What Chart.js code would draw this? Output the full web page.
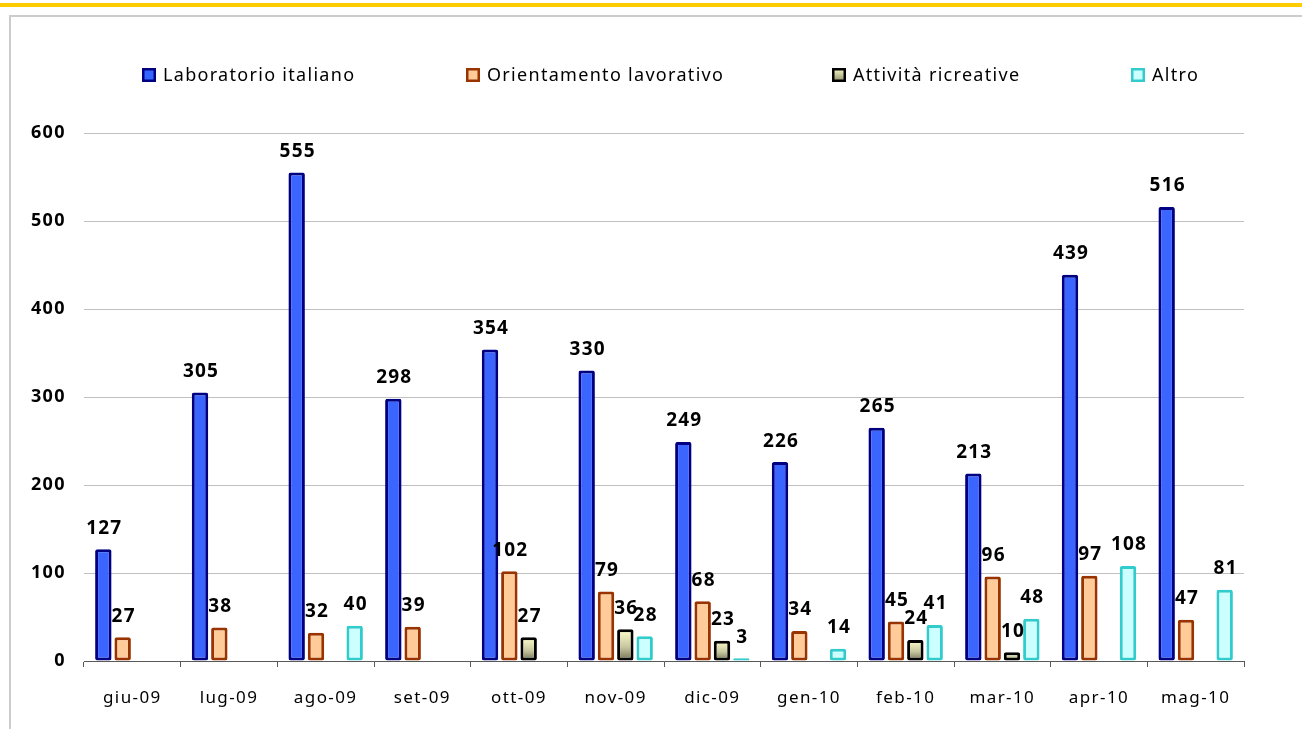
<!DOCTYPE html>
<html lang="it">
<head>
<meta charset="utf-8">
<title>Partecipanti per attività</title>
<script src="https://cdn.jsdelivr.net/npm/chart.js@4"></script>
<style>
  html, body { margin: 0; padding: 0; background: #ffffff; overflow: hidden; }
  #topline { position: absolute; left: 0; top: 3px; width: 1302px; height: 4px; background: #FFCC00; }
  #frame { position: absolute; left: 9px; top: 15px; width: 1310px; height: 730px;
           border-top: 2px solid #CCCCCC; border-left: 2px solid #CCCCCC; }
  #chart { position: absolute; left: 0; top: 0; }
</style>
</head>
<body>
<div id="topline"></div>
<div id="frame"></div>
<canvas id="chart" width="1302" height="729"></canvas>
<script>
// Months (June 2009 – May 2010)
const months = ['giu-09', 'lug-09', 'ago-09', 'set-09', 'ott-09', 'nov-09',
                'dic-09', 'gen-10', 'feb-10', 'mar-10', 'apr-10', 'mag-10'];

// Participants per activity
const laboratorioItaliano    = [127, 305, 555, 298, 354, 330, 249, 226, 265, 213, 439, 516];
const orientamentoLavorativo = [27, 38, 32, 39, 102, 79, 68, 34, 45, 96, 97, 47];
const attivitaRicreative     = [null, null, null, null, 27, 36, 23, null, 24, 10, null, null];
const altro                  = [null, null, 40, null, null, 28, 3, 14, 41, 48, 108, 81];

const seriesNames = ['Laboratorio italiano', 'Orientamento lavorativo', 'Attività ricreative', 'Altro'];
const yTicks = [0, 100, 200, 300, 400, 500, 600];

const FONT = '"Noto Sans", "DejaVu Sans", sans-serif';

// Vertical pale-yellow to olive fill used by the "Attività ricreative" bars
function oliveGradient(c) {
  const chart = c.chart;
  const y = chart.scales && chart.scales.y;
  if (!chart.chartArea || !y || c.raw == null) return '#D8D8B0';
  const top = y.getPixelForValue(c.raw);
  const base = y.getPixelForValue(0);
  const g = chart.ctx.createLinearGradient(0, top, 0, base);
  g.addColorStop(0, '#FFFFCC');
  g.addColorStop(0.55, '#C8C8A0');
  g.addColorStop(1, '#6E6E50');
  return g;
}

const legendStyles = [
  { fill: '#3366FF', stroke: '#000080', x: 142 },
  { fill: '#FFCC99', stroke: '#993300', x: 466 },
  { fill: null,      stroke: '#000000', x: 832 },
  { fill: '#CCFFFF', stroke: '#33CCCC', x: 1131 }
];

// Text spacing, value labels and legend row
const drawExtras = {
  id: 'drawExtras',
  beforeDraw(chart) {
    chart.ctx.letterSpacing = '1.4px';
  },
  afterDatasetsDraw(chart) {
    const ctx = chart.ctx;
    ctx.save();
    ctx.letterSpacing = '1.2px';
    ctx.font = 'bold 19px ' + FONT;
    ctx.fillStyle = '#000000';
    ctx.textAlign = 'center';
    ctx.textBaseline = 'middle';
    chart.data.datasets.forEach((ds, i) => {
      const meta = chart.getDatasetMeta(i);
      meta.data.forEach((bar, j) => {
        const v = ds.data[j];
        if (v == null) return;
        ctx.fillText(String(v), bar.x + 1, bar.y - 21);
      });
    });
    ctx.restore();
  },
  afterDraw(chart) {
    const ctx = chart.ctx;
    ctx.save();
    ctx.letterSpacing = '1.3px';
    ctx.font = '18px ' + FONT;
    ctx.textBaseline = 'middle';
    ctx.textAlign = 'left';
    const by = 68, bs = 14;
    seriesNames.forEach((name, i) => {
      const s = legendStyles[i];
      let fill = s.fill;
      if (!fill) {
        const g = ctx.createLinearGradient(0, by, 0, by + bs);
        g.addColorStop(0, '#FFFFCC');
        g.addColorStop(1, '#8A8A66');
        fill = g;
      }
      ctx.fillStyle = fill;
      ctx.fillRect(s.x, by, bs, bs);
      ctx.lineWidth = 2.5;
      ctx.strokeStyle = s.stroke;
      ctx.strokeRect(s.x + 1.25, by + 1.25, bs - 2.5, bs - 2.5);
      ctx.fillStyle = '#000000';
      ctx.fillText(name, s.x + bs + 7, by + bs / 2 + 1);
    });
    ctx.restore();
  }
};

new Chart(document.getElementById('chart'), {
  type: 'bar',
  data: {
    labels: months,
    datasets: [
      { label: seriesNames[0], data: laboratorioItaliano,
        backgroundColor: '#3A66FF', borderColor: '#000080', borderWidth: 3 },
      { label: seriesNames[1], data: orientamentoLavorativo,
        backgroundColor: '#FFCC99', borderColor: '#993300', borderWidth: 3 },
      { label: seriesNames[2], data: attivitaRicreative,
        backgroundColor: oliveGradient, borderColor: '#000000', borderWidth: 3 },
      { label: seriesNames[3], data: altro,
        backgroundColor: '#CCFFFF', borderColor: '#33CCCC', borderWidth: 3 }
    ]
  },
  options: {
    responsive: false,
    devicePixelRatio: 1,
    animation: false,
    datasets: {
      bar: { categoryPercentage: 0.8, barPercentage: 0.85, borderSkipped: false, borderRadius: 2 }
    },
    layout: { padding: { top: 133, left: 0, right: 58, bottom: 0 } },
    plugins: {
      legend: { display: false },
      tooltip: { enabled: false },
      title: { display: false }
    },
    scales: {
      x: {
        afterFit(scale) { scale.height = 68; },
        grid: { offset: true, drawOnChartArea: false, drawTicks: true, tickLength: 6, color: '#595959' },
        border: { display: true, color: '#595959', width: 1 },
        ticks: { color: '#000000', padding: 21, font: { family: FONT, size: 17 } }
      },
      y: {
        min: 0,
        max: 600,
        afterFit(scale) { scale.width = 84; },
        afterBuildTicks(scale) { scale.ticks = yTicks.map(v => ({ value: v })); },
        grid: { color: '#C0C0C0', drawTicks: false, lineWidth: 1 },
        border: { display: false },
        ticks: { color: '#000000', padding: 18, font: { family: FONT, size: 18, weight: 'bold' } }
      }
    }
  },
  plugins: [drawExtras]
});
</script>
</body>
</html>
